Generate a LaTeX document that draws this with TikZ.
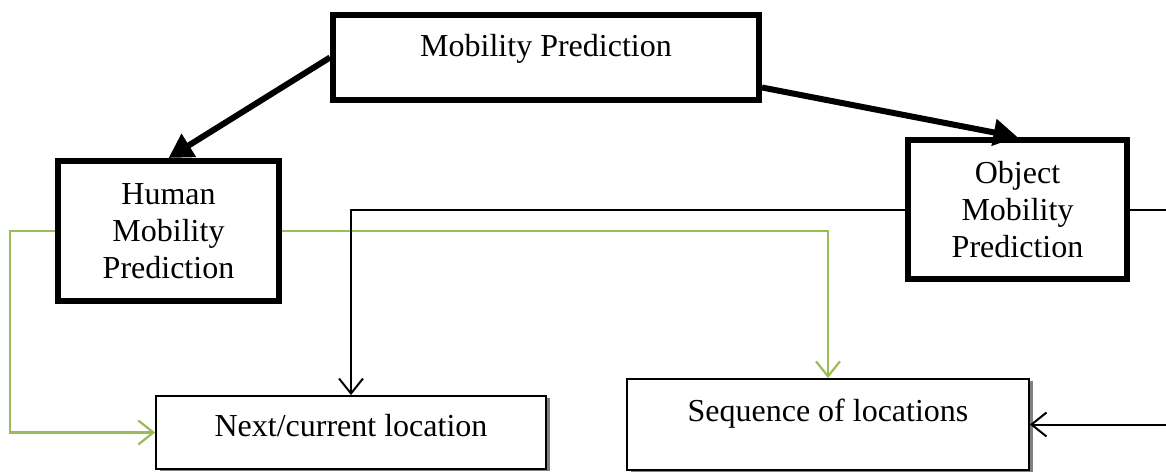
\documentclass[tikz,border=0pt]{standalone}
\usepackage{fontspec}
\setmainfont{Liberation Serif}
\usetikzlibrary{arrows.meta,shadows}

\definecolor{olivegreen}{RGB}{155,187,89}

\tikzset{
    mainbox/.style={draw, line width=6pt, fill=white, inner sep=0pt, align=center,
        font=\fontsize{32}{37}\selectfont},
    outbox/.style={draw, line width=1.8pt, fill=white, inner sep=0pt,
        font=\fontsize{32}{37}\selectfont,
        drop shadow={shadow xshift=4pt, shadow yshift=-2pt, fill=gray, opacity=1}},
    bigarrow/.style={line width=6pt, -{Triangle[length=24pt,width=26pt]}},
    greenlink/.style={olivegreen, line width=2.2pt, -{Straight Barb[length=15pt,width=24pt]}},
    blacklink/.style={black, line width=2pt, -{Straight Barb[length=15pt,width=24pt]}}
}

\begin{document}
\begin{tikzpicture}[x=1pt,y=-1pt]
    \clip (0,0) rectangle (1166,474);

    % Prediction boxes
    \node[mainbox, minimum width=426pt, minimum height=85pt, text depth=25pt] (mob) at (546,57.5) {Mobility Prediction};
    \node[mainbox, minimum width=221pt, minimum height=140pt] (hum) at (168.5,231) {Human\\Mobility\\Prediction};
    \node[mainbox, minimum width=219pt, minimum height=139pt] (obj) at (1017.5,209.5) {Object\\Mobility\\Prediction};

    % Output boxes
    \node[outbox, minimum width=390pt, minimum height=73pt, text depth=15pt] (next) at (351,432.5) {Next/current location};
    \node[outbox, minimum width=402pt, minimum height=91pt, text depth=29pt] (seq) at (828,424.5) {Sequence of locations};

    % Thick arrows
    \draw[bigarrow] (mob.west) -- (hum.north);
    \draw[bigarrow] ([yshift=-30pt]mob.east) -- (obj.north);

    % Human mobility links
    \draw[greenlink] (hum.west) -- ++(-45,0) |- (next.west);
    \draw[greenlink] (hum.east) -| (seq.north);

    % Object mobility links
    \draw[blacklink] (obj.west) -| (next.north);
    \draw[blacklink] (obj.east) -- ++(60,0) |- (seq.east);

\end{tikzpicture}
\end{document}
